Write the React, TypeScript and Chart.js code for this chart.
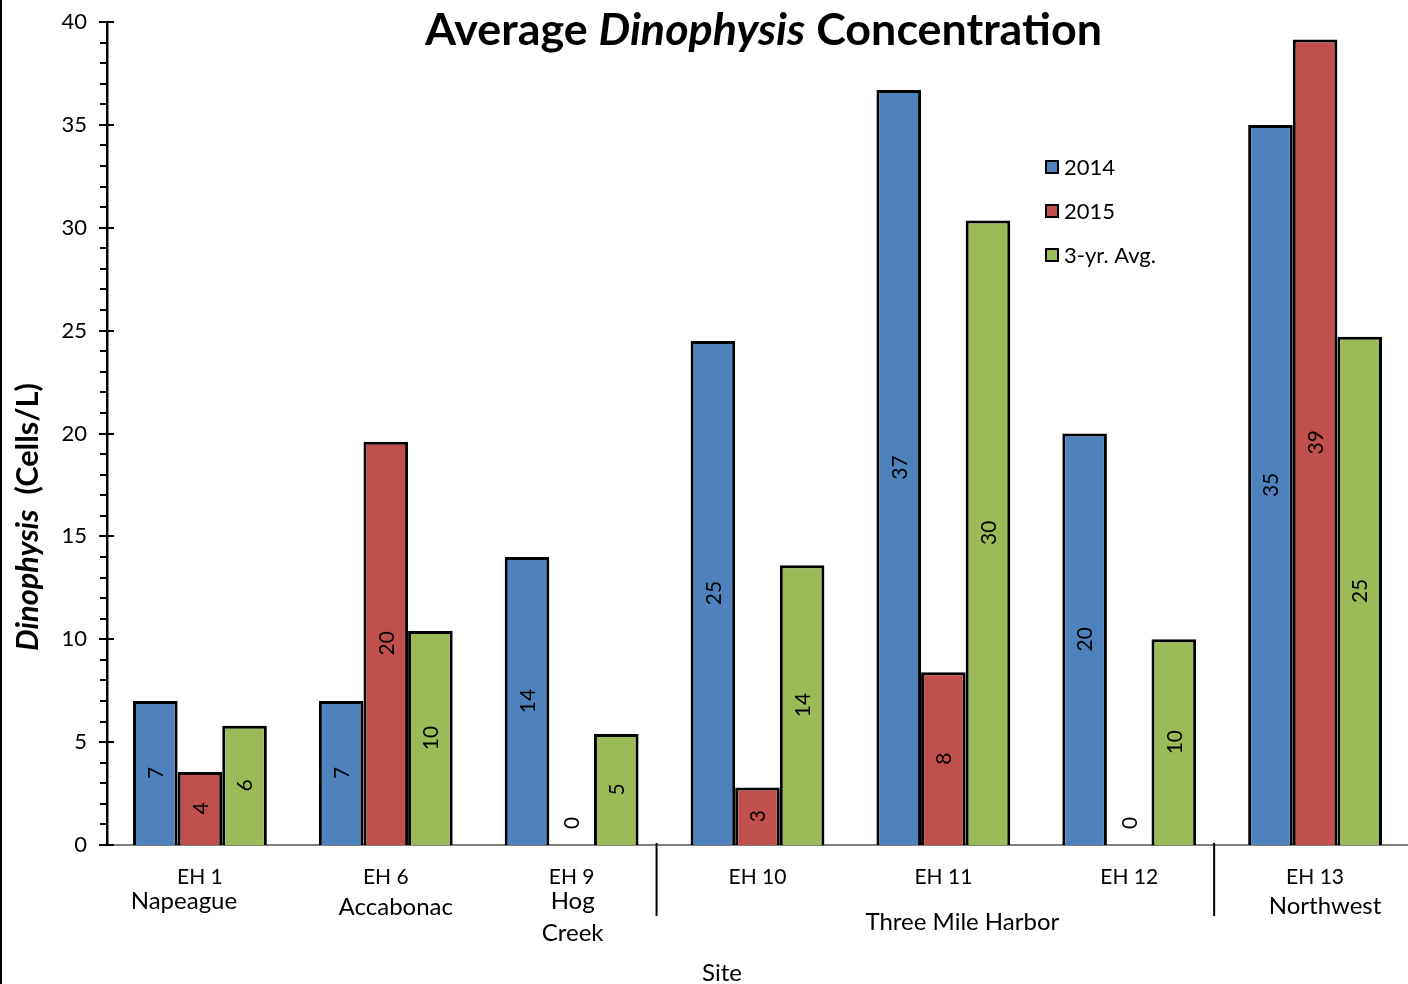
import React, { useEffect, useRef } from 'react';
import { Chart, registerables } from 'chart.js';

Chart.register(...registerables);

const sites = ['EH 1', 'EH 6', 'EH 9', 'EH 10', 'EH 11', 'EH 12', 'EH 13'];
const seriesNames = ['2014', '2015', '3-yr. Avg.'];
const values2014 = [7, 7, 14, 24.5, 36.7, 20, 35];
const values2015 = [3.55, 19.6, 0, 2.8, 8.4, 0, 39.15];
const valuesAvg = [5.8, 10.4, 5.4, 13.6, 30.35, 10, 24.7];
const seriesColors = ['#4F81BD', '#C0504D', '#9BBB59'];
const yMin = 0;
const yMax = 40;
const yMajorStep = 5;
const yMinorStep = 1;

const titleParts = [
  { text: 'Average ', italic: false },
  { text: 'Dinophysis', italic: true },
  { text: ' Concentration', italic: false },
];
const yTitleParts = [
  { text: 'Dinophysis', italic: true },
  { text: '  (Cells/L)', italic: false },
];
const xTitle = 'Site';

// Secondary site names under the tick labels (category index they belong to)
const groupNames = [
  { lines: ['Napeague'], at: 0 },
  { lines: ['Accabonac'], at: 1 },
  { lines: ['Hog', 'Creek'], at: 2 },
  { lines: ['Three Mile Harbor'], at: 4 },
  { lines: ['Northwest'], at: 6 },
];
const separatorsAt = [2.5, 5.5];

// style-only offsets for the group names (px)
const groupStyle = [
  { dx: -16, y: 901 },
  { dx: 10, y: 907 },
  { dx: 1, y: 901 },
  { dx: 19, y: 922 },
  { dx: 10, y: 906 },
];

const FONT = 'Lato, "Open Sans", sans-serif';

const decorPlugin = {
  id: 'decor',
  beforeDraw(chart: any) {
    const ctx = chart.ctx;
    ctx.save();
    ctx.fillStyle = '#ffffff';
    ctx.fillRect(0, 0, chart.width, chart.height);
    ctx.restore();
  },
  afterDraw(chart: any) {
    const ctx = chart.ctx;
    const x = chart.scales.x;
    const y = chart.scales.y;
    const area = chart.chartArea;
    ctx.save();
    // left frame line
    ctx.strokeStyle = '#000';
    ctx.lineWidth = 2;
    ctx.beginPath();
    ctx.moveTo(1, 0);
    ctx.lineTo(1, chart.height);
    ctx.stroke();

    // y ticks (major + minor)
    ctx.lineWidth = 2;
    for (let v = yMin; v <= yMax + 1e-9; v += yMinorStep) {
      const py = Math.round(y.getPixelForValue(v));
      const major = Math.abs(v % yMajorStep) < 1e-9;
      ctx.beginPath();
      ctx.moveTo(area.left - (major ? 8 : 7), py);
      ctx.lineTo(area.left + (major ? 7 : 0), py);
      ctx.stroke();
    }

    // separators
    ctx.lineWidth = 2;
    for (const s of separatorsAt) {
      const px = x.getPixelForValue(s) - 8;
      ctx.beginPath();
      ctx.moveTo(px, area.bottom - 2);
      ctx.lineTo(px, area.bottom + 71);
      ctx.stroke();
    }

    // group names
    ctx.fillStyle = '#000';
    ctx.textAlign = 'center';
    ctx.textBaseline = 'middle';
    ctx.font = `24px ${FONT}`;
    groupNames.forEach((g, i) => {
      const st = groupStyle[i];
      const cx = x.getPixelForValue(g.at) + st.dx;
      g.lines.forEach((line, j) => {
        ctx.fillText(line, cx, st.y + j * 32);
      });
    });

    // x title
    ctx.font = `24px ${FONT}`;
    ctx.fillText(xTitle, 722, 973);

    // mixed-style text fitted to width
    const measure = (parts: any[], size: number) => {
      let total = 0;
      const widths = parts.map((p) => {
        ctx.font = `${p.italic ? 'italic ' : ''}bold ${size}px ${FONT}`;
        const w = ctx.measureText(p.text).width;
        total += w;
        return w;
      });
      return { total, widths };
    };
    const renderMixed = (parts: any[], targetWidth: number, cx: number, cy: number, rotate: boolean) => {
      const m0 = measure(parts, 40);
      const size = 40 * targetWidth / m0.total;
      const m = measure(parts, size);
      ctx.save();
      ctx.translate(cx, cy);
      if (rotate) ctx.rotate(-Math.PI / 2);
      ctx.textAlign = 'left';
      ctx.textBaseline = 'middle';
      let sx = -m.total / 2;
      parts.forEach((p, i) => {
        ctx.font = `${p.italic ? 'italic ' : ''}bold ${size}px ${FONT}`;
        ctx.fillText(p.text, sx, 0);
        sx += m.widths[i];
      });
      ctx.restore();
    };
    renderMixed(titleParts, 677, 763.5, 31, false);
    renderMixed(yTitleParts, 268, 28, 517, true);

    // legend
    ctx.font = `22px ${FONT}`;
    ctx.textAlign = 'left';
    ctx.textBaseline = 'middle';
    chart.data.datasets.forEach((ds: any, i: number) => {
      const ly = 167 + i * 44;
      ctx.fillStyle = ds.backgroundColor;
      ctx.fillRect(1046, ly - 6, 12, 12);
      ctx.strokeStyle = '#000';
      ctx.lineWidth = 2;
      ctx.strokeRect(1046, ly - 6, 12, 12);
      ctx.fillStyle = '#000';
      ctx.fillText(ds.label, 1064, ly + 1);
    });
    ctx.restore();
  },
  afterDatasetsDraw(chart: any) {
    const ctx = chart.ctx;
    ctx.save();
    ctx.fillStyle = '#000';
    ctx.font = `21px ${FONT}`;
    ctx.textAlign = 'center';
    ctx.textBaseline = 'middle';
    chart.data.datasets.forEach((ds: any, di: number) => {
      const meta = chart.getDatasetMeta(di);
      meta.data.forEach((el: any, i: number) => {
        const v = ds.data[i];
        const cy = v === 0 ? el.base - 22 : (el.y + el.base) / 2;
        ctx.save();
        ctx.translate(el.x, cy);
        ctx.rotate(-Math.PI / 2);
        ctx.fillText(String(Math.round(v)), 0, 1);
        ctx.restore();
      });
    });
    ctx.restore();
  },
};

export default function App() {
  const ref = useRef<HTMLCanvasElement>(null);
  useEffect(() => {
    document.body.style.margin = '0';
    const canvas = ref.current!;
    const allSeries = [values2014, values2015, valuesAvg];
    const chart = new Chart(canvas, {
      type: 'bar',
      data: {
        labels: sites,
        datasets: allSeries.map((d, i) => ({
          label: seriesNames[i],
          data: d,
          backgroundColor: seriesColors[i],
          borderColor: '#000',
          borderWidth: 3,
          categoryPercentage: 0.72,
          barPercentage: 1,
        })),
      },
      options: {
        responsive: false,
        animation: false,
        devicePixelRatio: 1,
        layout: { padding: { top: 22, left: 0, right: 0, bottom: 0 } },
        plugins: {
          legend: { display: false },
          title: { display: false },
          tooltip: { enabled: false },
        },
        scales: {
          x: {
            grid: { display: false },
            border: { display: true, color: '#7f7f7f', width: 2 },
            ticks: { color: '#000', font: { family: FONT, size: 21 }, padding: 12, maxRotation: 0 },
            afterFit: (s: any) => { s.height = 139; s.paddingLeft = 0; s.paddingRight = 0; },
          },
          y: {
            min: yMin,
            max: yMax,
            grid: { display: false },
            border: { display: true, color: '#000', width: 2.5 },
            ticks: { stepSize: yMajorStep, color: '#000', font: { family: FONT, size: 22 }, padding: 12 },
            afterFit: (s: any) => { s.width = 107; s.paddingTop = 0; s.paddingBottom = 0; },
          },
        },
      },
      plugins: [decorPlugin],
    });
    return () => chart.destroy();
  }, []);
  return (
    <div style={{ width: 1408, height: 984 }}>
      <canvas ref={ref} width={1408} height={984} />
    </div>
  );
}
